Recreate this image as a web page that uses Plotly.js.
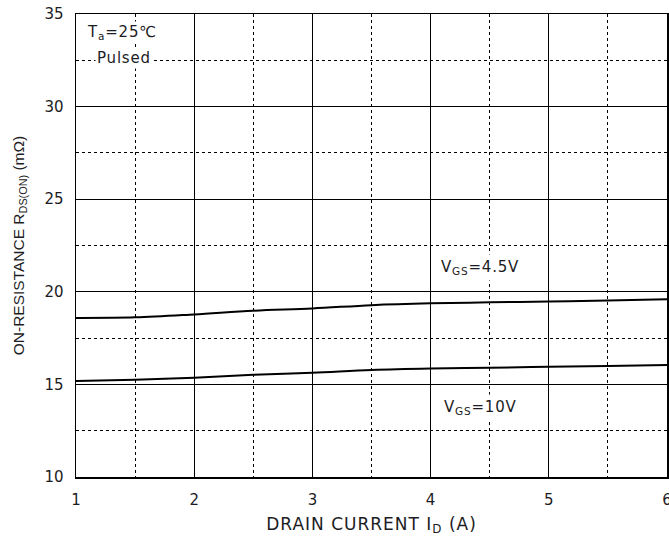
<!DOCTYPE html>
<html><head><meta charset="utf-8">
<script src="https://cdn.plot.ly/plotly-3.0.1.min.js"></script>
<style>
html,body{margin:0;padding:0;background:#fff}
.xtitle{letter-spacing:1px}
.annotation-text{letter-spacing:0.8px}
</style>
</head><body><div id="chart" style="width:669px;height:538px"></div>
<script>
const drainCurrent = [1, 1.5, 2, 2.5, 3, 3.5, 4, 4.5, 5, 5.5, 6];
const rdsVgs45 = [18.59, 18.62, 18.78, 18.98, 19.1, 19.28, 19.38, 19.43, 19.48, 19.53, 19.6];
const rdsVgs10 = [15.18, 15.25, 15.36, 15.52, 15.63, 15.78, 15.86, 15.9, 15.95, 16.0, 16.05];
const xTicks = [1, 2, 3, 4, 5, 6];
const yTicks = [10, 15, 20, 25, 30, 35];

const fam = 'DejaVu Sans, Verdana, sans-serif';
const txtColor = '#1c1c24';
const tickFont = {family: fam, size: 15, color: txtColor};
const annFont = {family: fam, size: 15, color: txtColor};
const traces = [
  {x: drainCurrent, y: rdsVgs45, mode: 'lines', line: {color: '#000', width: 2, shape: 'spline'}, hoverinfo: 'skip'},
  {x: drainCurrent, y: rdsVgs10, mode: 'lines', line: {color: '#000', width: 2, shape: 'spline'}, hoverinfo: 'skip'}
];
const axisCommon = {
  showline: true, mirror: true, linecolor: '#000', linewidth: 1.5,
  showgrid: true, gridcolor: '#000', gridwidth: 1, zeroline: false,
  ticks: '', ticklabelstandoff: 8, tickfont: tickFont, ticklabeloverflow: 'allow'
};
const layout = {
  width: 669, height: 538,
  margin: {l: 76, r: 2, t: 14, b: 61},
  paper_bgcolor: '#fff', plot_bgcolor: '#fff',
  showlegend: false,
  font: tickFont,
  xaxis: Object.assign({}, axisCommon, {
    range: [1, 6], tickvals: xTicks,
    minor: {dtick: 0.5, showgrid: true, griddash: 'dot', gridcolor: '#000', gridwidth: 1},
    title: {text: 'DRAIN CURRENT I<sub>D</sub> (A)', font: {family: fam, size: 17, color: txtColor}, standoff: 10}
  }),
  yaxis: Object.assign({}, axisCommon, {
    range: [10, 35], tickvals: yTicks,
    minor: {dtick: 2.5, showgrid: true, griddash: 'dot', gridcolor: '#000', gridwidth: 1},
    title: {text: 'ON-RESISTANCE R<sub>DS(ON)</sub> (mΩ)', font: {family: 'Liberation Sans, Arial, sans-serif', size: 15.5, color: txtColor}, standoff: 16}
  }),
  annotations: [
    {x: 1.39, y: 34.0, text: 'T<sub>a</sub>=25℃', showarrow: false, font: annFont, bgcolor: '#fff'},
    {x: 1.41, y: 32.6, text: 'Pulsed', showarrow: false, font: annFont, bgcolor: '#fff'},
    {x: 4.42, y: 21.3, text: 'V<sub>GS</sub>=4.5V', showarrow: false, font: annFont, bgcolor: '#fff', borderpad: 3},
    {x: 4.42, y: 13.75, text: 'V<sub>GS</sub>=10V', showarrow: false, font: annFont, bgcolor: '#fff', borderpad: 3}
  ]
};
Plotly.newPlot('chart', traces, layout, {displayModeBar: false, staticPlot: true});
</script>
</body></html>
